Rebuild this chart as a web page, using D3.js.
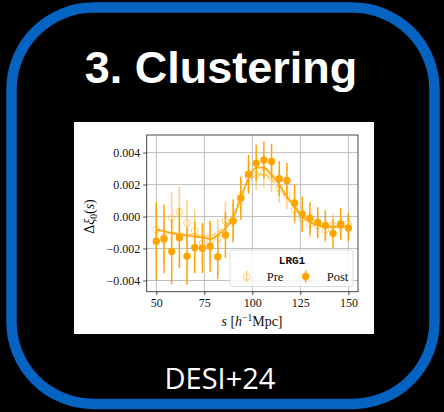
<!DOCTYPE html>
<html>
<head>
<meta charset="utf-8">
<script src="https://cdn.jsdelivr.net/npm/d3@7"></script>
<style>
  html, body { margin: 0; padding: 0; background: #000; }
  svg { display: block; }
</style>
</head>
<body>
<div id="slide"></div>
<script>
// separation s [h^-1 Mpc]
var sep = [50, 54, 58, 62, 66, 70, 74, 78, 82, 86, 90, 94, 98, 102, 106, 110, 114, 118, 122, 126, 130, 134, 138, 142, 146, 150]

// values in units of 1e-3
var postXi  = [-1.54, -1.40, -2.19, -1.33, -2.48, -1.94, -1.98, -1.86, -2.51, -1.15, -0.27, 1.15, 2.65, 3.34, 3.54, 3.44, 2.37, 2.25, 0.85, 0.15, -0.11, -0.37, -0.55, -1.05, -0.46, -0.71]
var postErr = [2.40, 2.15, 2.05, 1.90, 1.80, 1.60, 1.55, 1.60, 1.40, 1.45, 1.35, 1.35, 1.20, 1.15, 1.15, 1.10, 1.10, 1.10, 1.15, 1.10, 1.00, 0.95, 0.95, 0.90, 1.00, 0.85]
var preXi   = [-0.83, -1.30, -0.08, 0.31, -0.42, -0.90, -1.67, -1.60, -1.37, -0.27, -0.30, 1.29, 2.40, 2.60, 2.75, 2.44, 1.77, 1.36, 0.42, -0.14, -0.48, -0.56, -0.83, -0.56, -0.60, -0.48]
var preErr  = [1.60, 1.60, 1.60, 1.55, 1.45, 1.36, 1.30, 1.25, 1.20, 1.20, 1.10, 1.05, 1.00, 0.95, 0.95, 0.90, 0.90, 0.90, 0.85, 0.85, 0.80, 0.80, 0.80, 0.75, 0.75, 0.75]
var postModel = [-0.79, -0.92, -1.04, -1.12, -1.19, -1.25, -1.31, -1.40, -1.15, -0.73, -0.10, 1.15, 2.40, 3.06, 3.06, 2.60, 2.00, 1.25, 0.63, 0.00, -0.35, -0.56, -0.63, -0.65, -0.65, -0.64]
var preModel  = [-0.85, -0.92, -0.98, -1.04, -1.10, -1.15, -1.19, -1.19, -0.98, -0.52, 0.10, 1.25, 2.19, 2.60, 2.65, 2.29, 1.77, 1.15, 0.52, 0.00, -0.31, -0.52, -0.58, -0.60, -0.60, -0.58]

var xTicks = [50, 75, 100, 125, 150]
var yTicks = [-0.004, -0.002, 0, 0.002, 0.004]

var W = 444, H = 412
var orange = '#ffa500'

var svg = d3.select('#slide').append('svg')
  .attr('width', W)
  .attr('height', H)

// rounded blue frame
svg.append('rect')
  .attr('x', 11.5).attr('y', 7.5)
  .attr('width', 423).attr('height', 396.5)
  .attr('rx', 82).attr('ry', 82)
  .style('fill', 'none')
  .style('stroke', '#0563c1')
  .style('stroke-width', 10.5)

svg.append('text')
  .text('3. Clustering')
  .attr('x', 221).attr('y', 83)
  .attr('text-anchor', 'middle')
  .style('font-family', '"Liberation Sans", Arial, sans-serif')
  .style('font-weight', 'bold')
  .style('font-size', '45px')
  .style('fill', '#fff')

svg.append('text')
  .text('DESI+24')
  .attr('x', 220).attr('y', 389)
  .attr('text-anchor', 'middle')
  .style('font-family', '"Open Sans", sans-serif')
  .style('font-size', '29px')
  .style('fill', '#fff')

// white inset with the plot
svg.append('rect')
  .attr('x', 74).attr('y', 122)
  .attr('width', 300).attr('height', 212)
  .style('fill', '#fff')

var plot = {left: 146.7, right: 358, top: 135, bottom: 291.7}

var x = d3.scaleLinear().domain([45, 155]).range([plot.left, plot.right])
var y = d3.scaleLinear().domain([-0.0047, 0.0051]).range([plot.bottom, plot.top])

var serif = '"Liberation Serif", "Times New Roman", serif'

var g = svg.append('g')

// grid
g.append('g').selectAll('line')
  .data(xTicks).enter().append('line')
  .attr('x1', d => x(d)).attr('x2', d => x(d))
  .attr('y1', plot.top).attr('y2', plot.bottom)
  .style('stroke', '#b0b0b0').style('stroke-width', 0.8)
g.append('g').selectAll('line')
  .data(yTicks).enter().append('line')
  .attr('x1', plot.left).attr('x2', plot.right)
  .attr('y1', d => y(d)).attr('y2', d => y(d))
  .style('stroke', '#b0b0b0').style('stroke-width', 0.8)

// axes
var fmt = function(d){ return (d < 0 ? '\u2212' : '') + Math.abs(d).toFixed(3) }

var xAxis = g.append('g')
  .attr('transform', 'translate(0,' + plot.bottom + ')')
  .call(d3.axisBottom(x).tickValues(xTicks).tickSize(3.5).tickPadding(3))
var yAxis = g.append('g')
  .attr('transform', 'translate(' + plot.left + ',0)')
  .call(d3.axisLeft(y).tickValues(yTicks).tickFormat(fmt).tickSize(3.5).tickPadding(3))

;[xAxis, yAxis].forEach(function(a){
  a.select('.domain').remove()
  a.selectAll('line').style('stroke', '#222').style('stroke-width', 0.8)
  a.selectAll('text')
    .style('font-family', serif)
    .style('font-size', '12px')
    .style('fill', '#111')
})

// model curves
var line = function(vals){
  return d3.line()
    .x((d, i) => x(sep[i]))
    .y(d => y(d * 1e-3))
    .curve(d3.curveMonotoneX)(vals)
}

g.append('path')
  .attr('d', line(preModel))
  .style('fill', 'none')
  .style('stroke', orange)
  .style('stroke-opacity', 0.5)
  .style('stroke-width', 1.6)
  .style('stroke-dasharray', '5.5,2.4')

g.append('path')
  .attr('d', line(postModel))
  .style('fill', 'none')
  .style('stroke', orange)
  .style('stroke-width', 1.6)

// pre reconstruction points (open, faded)
var pre = g.append('g').style('opacity', 0.5)
pre.selectAll('line')
  .data(sep).enter().append('line')
  .attr('x1', d => x(d)).attr('x2', d => x(d))
  .attr('y1', (d, i) => y((preXi[i] + preErr[i]) * 1e-3))
  .attr('y2', (d, i) => y((preXi[i] - preErr[i]) * 1e-3))
  .style('stroke', orange).style('stroke-width', 1.5)
pre.selectAll('circle')
  .data(sep).enter().append('circle')
  .attr('cx', d => x(d))
  .attr('cy', (d, i) => y(preXi[i] * 1e-3))
  .attr('r', 3.4)
  .style('fill', 'none')
  .style('stroke', orange)
  .style('stroke-width', 1)

// post reconstruction points
var post = g.append('g')
post.selectAll('line')
  .data(sep).enter().append('line')
  .attr('x1', d => x(d)).attr('x2', d => x(d))
  .attr('y1', (d, i) => y((postXi[i] + postErr[i]) * 1e-3))
  .attr('y2', (d, i) => y((postXi[i] - postErr[i]) * 1e-3))
  .style('stroke', orange).style('stroke-width', 1.5)
post.selectAll('circle')
  .data(sep).enter().append('circle')
  .attr('cx', d => x(d))
  .attr('cy', (d, i) => y(postXi[i] * 1e-3))
  .attr('r', 3.7)
  .style('fill', orange)

// frame
g.append('rect')
  .attr('x', plot.left).attr('y', plot.top)
  .attr('width', plot.right - plot.left).attr('height', plot.bottom - plot.top)
  .style('fill', 'none')
  .style('stroke', '#333')
  .style('stroke-width', 0.9)

// legend
var legend = g.append('g')
legend.append('rect')
  .attr('x', 230).attr('y', 250)
  .attr('width', 123).attr('height', 36.5)
  .attr('rx', 2.5)
  .style('fill', '#fff').style('fill-opacity', 0.8)
  .style('stroke', '#d6d6d6').style('stroke-width', 0.8)

legend.append('text')
  .text('LRG1')
  .attr('x', 292).attr('y', 264)
  .attr('text-anchor', 'middle')
  .style('font-family', '"Liberation Mono", "DejaVu Sans Mono", monospace')
  .style('font-weight', 'bold')
  .style('font-size', '11px')
  .style('fill', '#111')

var legendItems = [
  {label: 'Pre', mx: 246.7, tx: 266.7, open: true},
  {label: 'Post', mx: 305.7, tx: 326.7, open: false}
]
legendItems.forEach(function(it){
  var item = legend.append('g').style('opacity', it.open ? 0.5 : 1)
  item.append('line')
    .attr('x1', it.mx).attr('x2', it.mx)
    .attr('y1', 270.5).attr('y2', 282.5)
    .style('stroke', orange).style('stroke-width', 1.5)
  item.append('circle')
    .attr('cx', it.mx).attr('cy', 276.5)
    .attr('r', it.open ? 3.4 : 3.7)
    .style('fill', it.open ? 'none' : orange)
    .style('stroke', orange)
    .style('stroke-width', it.open ? 1 : 0)
  legend.append('text')
    .text(it.label)
    .attr('x', it.tx).attr('y', 280.5)
    .style('font-family', serif)
    .style('font-size', '12.5px')
    .style('fill', '#111')
})

// axis labels
var xl = svg.append('text')
  .attr('x', 252).attr('y', 326)
  .attr('text-anchor', 'middle')
  .style('font-family', serif)
  .style('font-size', '14px')
  .style('fill', '#111')
xl.append('tspan').text('s').style('font-style', 'italic')
xl.append('tspan').text(' [')
xl.append('tspan').text('h').style('font-style', 'italic')
xl.append('tspan').text('\u22121').attr('dy', -5).style('font-size', '9.5px')
xl.append('tspan').text('Mpc]').attr('dy', 5)

var yl = svg.append('text')
  .attr('transform', 'translate(94,216.5) rotate(-90)')
  .attr('text-anchor', 'middle')
  .style('font-family', serif)
  .style('font-size', '14px')
  .style('fill', '#111')
yl.append('tspan').text('\u0394')
yl.append('tspan').text('\u03be').style('font-style', 'italic')
yl.append('tspan').text('0').attr('dy', 3).style('font-size', '9.5px')
yl.append('tspan').text('(').attr('dy', -3)
yl.append('tspan').text('s').style('font-style', 'italic')
yl.append('tspan').text(')')
</script>
</body>
</html>
